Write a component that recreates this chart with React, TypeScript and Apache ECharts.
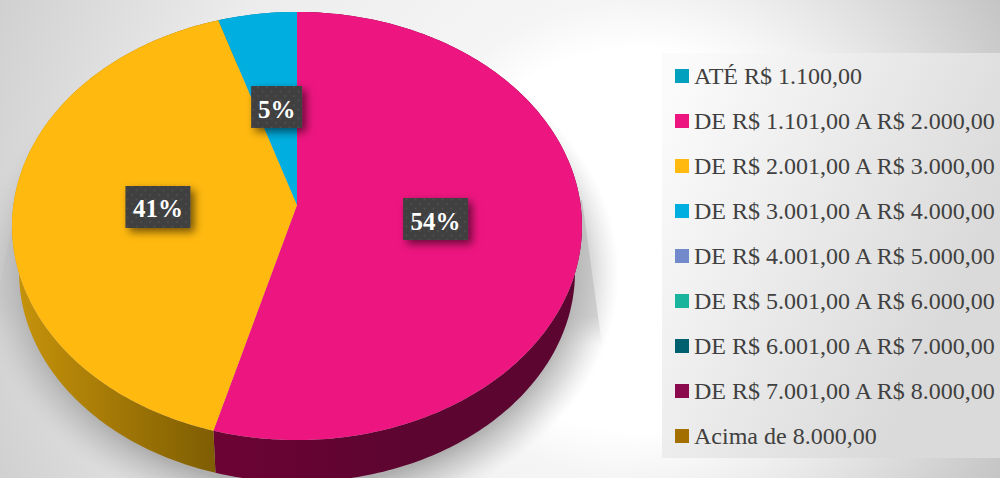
import React, { useEffect, useRef } from "react";
import * as echarts from "echarts";

const categories = [
  "ATÉ R$ 1.100,00",
  "DE R$ 1.101,00 A R$ 2.000,00",
  "DE R$ 2.001,00 A R$ 3.000,00",
  "DE R$ 3.001,00 A R$ 4.000,00",
  "DE R$ 4.001,00 A R$ 5.000,00",
  "DE R$ 5.001,00 A R$ 6.000,00",
  "DE R$ 6.001,00 A R$ 7.000,00",
  "DE R$ 7.001,00 A R$ 8.000,00",
  "Acima de 8.000,00",
];
const values = [0, 54.3, 40.8, 4.9, 0, 0, 0, 0, 0];
const colors = ["#00A0BE", "#ED157F", "#FFB90F", "#00AEDF", "#7289CB", "#18B49B", "#00606F", "#8B0A4E", "#A37000"];
const sideStart = ["#007080", "#6C0335", "#C8940A", "#007A9C", "#50608E", "#107E6C", "#00434E", "#610736", "#724E00"];
const sideEnd = ["#007080", "#5C0530", "#7D5C02", "#007A9C", "#50608E", "#107E6C", "#00434E", "#610736", "#724E00"];

const CX = 297, APEX_Y = 205, K = 0.0981, A = 283.6, B = 212;
const TOP_CY = 226, TOP_RX = 285, TOP_RY = 214;
const BOT_CY = 272, BOT_RX = 278, BOT_RY = 210;
const LABEL_R = 0.49;

const total = values.reduce((s, v) => s + v, 0);

function project(theta: number, r = 1): number[] {
  const u = Math.sin(theta) * r, v = -Math.cos(theta) * r;
  const d = 1 - K * v;
  return [CX + (A * u) / d, APEX_Y + (B * v) / d];
}
function lower(p: number[]): number[] {
  return [CX + ((p[0] - CX) * BOT_RX) / TOP_RX, BOT_CY + ((p[1] - TOP_CY) * BOT_RY) / TOP_RY];
}

function dotPattern(): HTMLCanvasElement {
  const c = document.createElement("canvas");
  c.width = 9; c.height = 9;
  const g = c.getContext("2d")!;
  g.fillStyle = "#404040";
  g.fillRect(0, 0, 9, 9);
  g.fillStyle = "#4f4f4f";
  [[1.5, 1.5], [6, 6]].forEach(([x, y]) => {
    g.beginPath();
    g.arc(x, y, 1, 0, Math.PI * 2);
    g.fill();
  });
  return c;
}

export default function App() {
  const ref = useRef<HTMLDivElement>(null);
  useEffect(() => {
    document.body.style.margin = "0";
    const chart = echarts.init(ref.current!, null, { renderer: "svg" });
    const pattern = dotPattern();
    let acc = 0;
    const series = categories.map((name, i) => {
      const startFrac = acc / total;
      acc += values[i];
      return {
        type: "custom",
        name,
        coordinateSystem: "none",
        itemStyle: { color: colors[i] },
        data: [[values[i]]],
        silent: true,
        renderItem: (_p: any, api: any) => {
          const value = api.value(0);
          if (!value) return { type: "group", children: [] };
          const a0 = startFrac * Math.PI * 2;
          const a1 = a0 + (value / total) * Math.PI * 2;
          const steps = Math.max(4, Math.ceil(((a1 - a0) * 180) / Math.PI));
          const rim: number[][] = [];
          for (let s = 0; s <= steps; s++) rim.push(project(a0 + ((a1 - a0) * s) / steps));
          const bottom = rim.map(lower).reverse();
          const mid = (a0 + a1) / 2;
          const [lx, ly] = project(mid, LABEL_R);
          const text = `${Math.round(value)}%`;
          const w = 51 + (text.length - 2) * 14;
          const h = 42;
          const xs = rim.map((p) => p[0]);
          return {
            type: "group",
            children: [
              {
                type: "polygon",
                z2: 1,
                shape: { points: rim.concat(bottom) },
                style: {
                  fill: new echarts.graphic.LinearGradient(
                    Math.min(...xs), 0, Math.max(...xs) < CX ? Math.max(...xs) : Math.min(...xs) + 200, 0,
                    [{ offset: 0, color: sideStart[i] }, { offset: 1, color: sideEnd[i] }], true),
                },
              },
              {
                type: "polygon",
                z2: 2,
                shape: { points: [project(0, 0)].concat(rim) },
                style: { fill: api.visual("color") },
              },
              {
                type: "rect",
                z2: 5,
                shape: { x: lx - w / 2, y: ly - h / 2, width: w, height: h },
                style: {
                  fill: { image: pattern, repeat: "repeat" },
                  shadowBlur: 8, shadowOffsetX: 4, shadowOffsetY: 4, shadowColor: "rgba(0,0,0,0.55)",
                },
              },
              {
                type: "text",
                z2: 6,
                style: {
                  text, x: lx, y: ly + 2, align: "center", verticalAlign: "middle",
                  fill: "#ffffff", font: 'bold 25px "Liberation Serif"',
                },
              },
            ],
          };
        },
      };
    });
    chart.setOption({
      animation: false,
      backgroundColor: "#ffffff",
      graphic: [
        {
          type: "rect", z: -10, shape: { x: 0, y: 0, width: 630, height: 478 },
          style: {
            fill: new echarts.graphic.RadialGradient(630, 240, 700, [
              { offset: 0.27, color: "#ffffff" },
              { offset: 0.34, color: "#f5f5f5" },
              { offset: 0.64, color: "#ececec" },
              { offset: 1, color: "#cdcdcd" },
            ], true),
          },
        },
        {
          type: "rect", z: -10, shape: { x: 630, y: 0, width: 370, height: 478 },
          style: {
            fill: new echarts.graphic.RadialGradient(630, 240, 480, [
              { offset: 0.4, color: "#ffffff" },
              { offset: 1, color: "#bbbbbb" },
            ], true),
          },
        },
        {
          type: "rect", z: -9, shape: { x: 662, y: 53, width: 338, height: 405 },
          style: {
            fill: new echarts.graphic.LinearGradient(690, 53, 1000, 200, [
              { offset: 0, color: "#fbfbfb" },
              { offset: 1, color: "#dadada" },
            ], true),
          },
        },
        {
          type: "polygon", z: -8,
          shape: { points: [[582, 200], [602, 345], [540, 345], [540, 200]] },
          style: {
            fill: new echarts.graphic.LinearGradient(0, 230, 0, 345, [
              { offset: 0, color: "rgba(200,200,200,1)" },
              { offset: 0.75, color: "rgba(205,205,205,0.8)" },
              { offset: 1, color: "rgba(220,220,220,0)" },
            ], true),
          },
        },
        {
          type: "polygon", z: -8,
          shape: { points: [[12, 225], [0, 285], [0, 345], [50, 345], [50, 225]] },
          style: {
            fill: new echarts.graphic.LinearGradient(0, 230, 0, 345, [
              { offset: 0, color: "rgba(200,200,200,1)" },
              { offset: 0.7, color: "rgba(205,205,205,0.7)" },
              { offset: 1, color: "rgba(220,220,220,0)" },
            ], true),
          },
        },
        {
          type: "ellipse", z: -7, shape: { cx: CX, cy: 274, rx: 322, ry: 252 },
          style: {
            fill: new echarts.graphic.RadialGradient(0.5, 0.5, 0.5, [
              { offset: 0, color: "rgba(175,175,175,1)" },
              { offset: 0.84, color: "rgba(175,175,175,1)" },
              { offset: 0.92, color: "rgba(190,190,190,0.55)" },
              { offset: 1, color: "rgba(210,210,210,0)" },
            ]),
          },
        },
      ],
      legend: {
        orient: "vertical",
        left: 675,
        top: 64,
        padding: 0,
        itemWidth: 14,
        itemHeight: 14,
        itemGap: 21,
        icon: "rect",
        selectedMode: false,
        data: categories,
        textStyle: { color: "#404040", fontFamily: "Liberation Serif", fontSize: 24, lineHeight: 24 },
      },
      series,
    });
    return () => chart.dispose();
  }, []);
  return <div ref={ref} style={{ width: 1000, height: 478 }} />;
}
